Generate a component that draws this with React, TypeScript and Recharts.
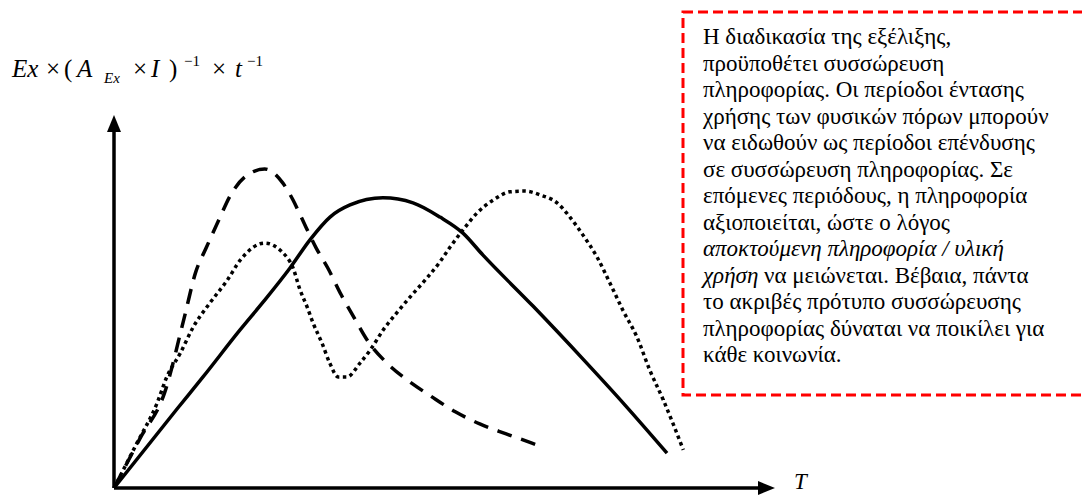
import React from "react";
import { LineChart, Line, XAxis, YAxis, ReferenceLine, ReferenceDot } from "recharts";

// T positions and values for the three curves
const solidT = [0, 9.78, 13.82, 19.57, 23.14, 27.33, 30.43, 33.54, 36.65, 41.77, 46.43, 50.62, 54.19, 57.3, 65.06, 72.83, 79.35, 85.87];
const solidV = [0, 22.2, 31.2, 44.4, 52.2, 61.8, 69.7, 76.1, 79.5, 81.5, 80.1, 76.1, 71.6, 65.4, 51.1, 36.2, 23.3, 9.8];

const dashedT = [0, 4.0, 7.9, 10.9, 12.7, 14.3, 16.2, 18.3, 20.7, 23.4, 26.2, 27.8, 29.2, 31.4, 33.2, 35.3, 37.3, 39.4, 42.2, 45.7, 49.2, 53.0, 56.8, 60.9, 64.9, 66.1];
const dashedV = [0, 13.8, 27.0, 47.8, 60.7, 67.4, 75.0, 82.9, 87.9, 89.6, 85.7, 80.9, 75.6, 67.4, 61.8, 54.2, 47.8, 41.3, 35.4, 30.1, 25.8, 21.4, 18.0, 15.2, 12.6, 11.8];

const dottedT = [0, 3.5, 6.7, 8.2, 10.3, 12.3, 14.9, 17.6, 19.6, 23.4, 26.1, 27.8, 28.9, 30.0, 30.9, 32.3, 33.5, 34.8, 36.2, 38.2, 39.8, 41.8, 43.9, 46.0, 48.6, 50.6, 52.2, 54.2, 56.4, 58.9, 61.5, 63.8, 66.2, 68.8, 70.8, 72.8, 75.0, 77.0, 79.0, 81.2, 83.2, 85.3, 88.4];
const dottedV = [0, 12.4, 23.9, 31.2, 37.9, 45.2, 52.0, 58.4, 64.0, 68.8, 66.3, 61.8, 55.6, 50.8, 46.4, 40.7, 35.1, 31.2, 31.2, 35.1, 38.8, 44.4, 49.2, 53.7, 59.0, 63.5, 67.7, 72.5, 77.3, 80.9, 83.2, 83.4, 82.3, 80.1, 76.1, 71.1, 64.9, 57.6, 50.0, 42.4, 33.1, 24.7, 10.7];

const noteLines: { text: string; italic?: string }[] = [
  { text: "Η διαδικασία της εξέλιξης," },
  { text: "προϋποθέτει συσσώρευση" },
  { text: "πληροφορίας. Οι περίοδοι έντασης" },
  { text: "χρήσης των φυσικών πόρων μπορούν" },
  { text: "να ειδωθούν ως περίοδοι επένδυσης" },
  { text: "σε συσσώρευση πληροφορίας. Σε" },
  { text: "επόμενες περιόδους, η πληροφορία" },
  { text: "αξιοποιείται, ώστε ο λόγος" },
  { text: "", italic: "αποκτούμενη πληροφορία / υλική" },
  { text: " να μειώνεται. Βέβαια, πάντα", italic: "χρήση" },
  { text: "το ακριβές πρότυπο συσσώρευσης" },
  { text: "πληροφορίας δύναται να ποικίλει για" },
  { text: "κάθε κοινωνία." },
];

const zip = (t: number[], v: number[]) => t.map((x, i) => ({ x, y: v[i] }));

const solidData = zip(solidT, solidV);
const dashedData = zip(dashedT, dashedV);
const dottedData = zip(dottedT, dottedV);

const serif = '"Times New Roman", "Liberation Serif", serif';
const ink = "#000";

const ArrowRight = (props: any) => {
  const { cx, cy } = props;
  return <polygon points={`${cx},${cy - 7} ${cx + 17},${cy} ${cx},${cy + 7}`} fill={ink} />;
};

const ArrowUp = (props: any) => {
  const { cx, cy } = props;
  return <polygon points={`${cx - 7},${cy} ${cx},${cy - 17} ${cx + 7},${cy}`} fill={ink} />;
};

// a piece of text placed by its baseline (line-height 1 puts the baseline at ~0.8375em)
function Glyph({ x, base, size, italic, children }: any) {
  return (
    <span
      style={{
        position: "absolute",
        left: x,
        top: base - size * 0.8375,
        fontFamily: serif,
        fontSize: size,
        lineHeight: 1,
        fontStyle: italic ? "italic" : "normal",
        whiteSpace: "nowrap",
        color: ink,
      }}
    >
      {children}
    </span>
  );
}

function Formula() {
  const base = 77;
  const sup = 67;
  const sub = 84;
  return (
    <>
      <Glyph x={12} base={base} size={25} italic>Ex</Glyph>
      <Glyph x={46} base={base} size={25}>×</Glyph>
      <Glyph x={64} base={base} size={25}>(</Glyph>
      <Glyph x={77} base={base} size={25} italic>A</Glyph>
      <Glyph x={104} base={sub} size={15} italic>Ex</Glyph>
      <Glyph x={133} base={base} size={25}>×</Glyph>
      <Glyph x={151} base={base} size={25} italic>I</Glyph>
      <Glyph x={169} base={base} size={25}>)</Glyph>
      <Glyph x={184} base={sup} size={15}>−1</Glyph>
      <Glyph x={212} base={base} size={25}>×</Glyph>
      <Glyph x={235} base={base} size={25} italic>t</Glyph>
      <Glyph x={247} base={sup} size={15}>−1</Glyph>
    </>
  );
}

function Note() {
  return (
    <>
      <svg width={1082} height={496} style={{ position: "absolute", left: 0, top: 0, pointerEvents: "none" }}>
        <rect x={683} y={12} width={420} height={383} fill="none" stroke="#ff0000" strokeWidth={3} strokeDasharray="10 5" />
      </svg>
      <div
        style={{
          position: "absolute",
          left: 703,
          top: 24,
          fontFamily: serif,
          fontSize: 23,
          lineHeight: "26.5px",
          color: ink,
          whiteSpace: "nowrap",
        }}
      >
        {noteLines.map((line, i) => (
          <div key={i}>
            {line.italic ? <i>{line.italic}</i> : null}
            {line.text}
          </div>
        ))}
      </div>
    </>
  );
}

export default function App() {
  return (
    <div style={{ position: "absolute", left: 0, top: 0, width: 1082, height: 496, background: "#fff", overflow: "hidden" }}>
      <LineChart
        width={1082}
        height={496}
        margin={{ top: 132, right: 324, bottom: 8, left: 114 }}
        style={{ position: "absolute", left: 0, top: 0 }}
      >
        <XAxis type="number" dataKey="x" domain={[0, 100]} hide />
        <YAxis type="number" dataKey="y" domain={[0, 100]} hide />
        <ReferenceLine segment={[{ x: 0, y: 0 }, { x: 100, y: 0 }]} stroke={ink} strokeWidth={3.5} ifOverflow="visible" />
        <ReferenceLine segment={[{ x: 0, y: 0 }, { x: 0, y: 100 }]} stroke={ink} strokeWidth={3.5} ifOverflow="visible" />
        <ReferenceDot x={100} y={0} ifOverflow="visible" shape={ArrowRight} />
        <ReferenceDot x={0} y={100} ifOverflow="visible" shape={ArrowUp} />
        <Line data={dashedData} dataKey="y" type="monotone" stroke={ink} strokeWidth={3.5} strokeDasharray="15 10" dot={false} activeDot={false} isAnimationActive={false} />
        <Line data={dottedData} dataKey="y" type="monotone" stroke={ink} strokeWidth={3.5} strokeDasharray="3.5 3.5" dot={false} activeDot={false} isAnimationActive={false} />
        <Line data={solidData} dataKey="y" type="monotone" stroke={ink} strokeWidth={3.5} dot={false} activeDot={false} isAnimationActive={false} />
      </LineChart>
      <Formula />
      <Glyph x={794} base={489} size={23} italic>T</Glyph>
      <Note />
    </div>
  );
}
